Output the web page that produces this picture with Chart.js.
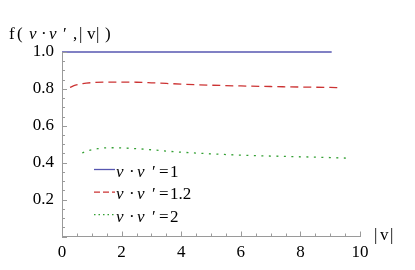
<!DOCTYPE html>
<html>
<head>
<meta charset="utf-8">
<script src="https://cdn.jsdelivr.net/npm/chart.js@4"></script>
<style>
  html, body { margin: 0; padding: 0; background: #fff; }
  #wrap { width: 415px; height: 270px; position: relative; }
</style>
</head>
<body>
<div id="wrap"><canvas id="chart" width="415" height="270"></canvas></div>
<script>
// values
const xSeries1 = [0, 9.05];
const ySeries1 = [1.0, 1.0];

const xSeries2 = [0.27, 0.45, 0.7, 1, 1.5, 2, 2.5, 3, 4, 5, 6, 7, 8, 9, 9.35];
const ySeries2 = [0.808, 0.820, 0.829, 0.834, 0.837, 0.837, 0.836, 0.833, 0.826, 0.820, 0.816, 0.813, 0.810, 0.808, 0.807];

const xSeries3 = [0.68, 0.9, 1.2, 1.6, 2, 2.5, 3, 3.5, 4, 5, 6, 7, 8, 9, 9.55];
const ySeries3 = [0.453, 0.466, 0.476, 0.481, 0.480, 0.476, 0.470, 0.463, 0.457, 0.448, 0.441, 0.436, 0.432, 0.428, 0.425];

const legendValues = ['1', '1.2', '2'];
const xTickLabels = [0, 2, 4, 6, 8, 10];
const yTickLabels = ['0.2', '0.4', '0.6', '0.8', '1.0'];

const SERIF = "'Liberation Serif', 'DejaVu Serif', serif";
const AXIS_GRAY = '#9a9a9a';
const FONT_SIZE = 17;

Chart.defaults.font.family = SERIF;
Chart.defaults.font.size = FONT_SIZE;
Chart.defaults.color = '#000';

const toPoints = (xs, ys) => xs.map((x, i) => ({ x, y: ys[i] }));

// glyphs placed one by one, [text, offset, italic], to get Mathematica's loose spacing
function drawGlyphs(ctx, glyphs, x0, y) {
  glyphs.forEach(([txt, dx, italic]) => {
    ctx.font = (italic ? 'italic ' : '') + FONT_SIZE + 'px ' + SERIF;
    ctx.fillText(txt, x0 + dx, y);
  });
}

// inward tick marks
const innerTicks = {
  id: 'innerTicks',
  afterDraw(chart) {
    const { ctx, chartArea, scales } = chart;
    ctx.save();
    ctx.strokeStyle = AXIS_GRAY;
    ctx.lineWidth = 1;
    ctx.beginPath();
    scales.x.ticks.forEach(t => {
      const px = Math.round(scales.x.getPixelForValue(t.value)) + 0.5;
      const major = Math.round(t.value * 2) % 4 === 0;
      ctx.moveTo(px, chartArea.bottom);
      ctx.lineTo(px, chartArea.bottom - (major ? 5 : 3));
    });
    scales.y.ticks.forEach(t => {
      const py = Math.round(scales.y.getPixelForValue(t.value)) + 0.5;
      const major = Math.round(t.value * 20) % 4 === 0;
      ctx.moveTo(chartArea.left, py);
      ctx.lineTo(chartArea.left + (major ? 5 : 3), py);
    });
    ctx.stroke();
    ctx.restore();
  }
};

// axis titles and legend
const annotations = {
  id: 'annotations',
  afterDraw(chart) {
    const { ctx, chartArea } = chart;
    ctx.save();
    ctx.fillStyle = '#000';
    ctx.textBaseline = 'alphabetic';

    drawGlyphs(ctx, [
      ['f', 0, false], ['(', 8, false], ['v', 20, true], ['\u00b7', 32, false],
      ['v', 40, true], ['\u2032', 54, false], [',', 64, false], ['|', 70, false],
      ['v', 78, false], ['|', 87, false], [')', 96, false],
    ], 9, 39);

    drawGlyphs(ctx, [['|', 0, false], ['v', 6, false], ['|', 16, false]], chartArea.right + 14, 240);

    const lx = 94, ly = 169, step = 22.6;
    chart.data.datasets.forEach((ds, i) => {
      const y = ly + i * step;
      ctx.save();
      ctx.strokeStyle = ds.borderColor;
      ctx.lineWidth = 1.3;
      ctx.setLineDash(i === 0 ? [] : (i === 1 ? [6, 3] : [1.5, 3]));
      ctx.beginPath();
      ctx.moveTo(lx, y + 0.5);
      ctx.lineTo(lx + 21, y + 0.5);
      ctx.stroke();
      ctx.restore();
      drawGlyphs(ctx, [
        ['v', 0, true], ['\u00b7', 13, false], ['v', 21, true], ['\u2032', 36, false],
        ['=', 43, false], [legendValues[i], 54, false],
      ], lx + 22, y + 7.5);
    });
    ctx.restore();
  }
};

new Chart(document.getElementById('chart'), {
  type: 'line',
  data: {
    datasets: [
      {
        data: toPoints(xSeries1, ySeries1),
        borderColor: '#5656b0',
        borderWidth: 1.5,
        pointRadius: 0,
        clip: false,
      },
      {
        data: toPoints(xSeries2, ySeries2),
        borderColor: '#cc3333',
        borderWidth: 1.3,
        borderDash: [8, 5],
        pointRadius: 0,
        cubicInterpolationMode: 'monotone',
        clip: false,
      },
      {
        data: toPoints(xSeries3, ySeries3),
        borderColor: '#33a033',
        borderWidth: 1.3,
        borderDash: [2, 5.5],
        pointRadius: 0,
        cubicInterpolationMode: 'monotone',
        clip: false,
      },
    ],
  },
  options: {
    responsive: false,
    animation: false,
    events: [],
    layout: { padding: { top: 52, right: 55, left: 0, bottom: 0 } },
    plugins: {
      legend: { display: false },
      tooltip: { enabled: false },
    },
    scales: {
      x: {
        type: 'linear',
        min: 0,
        max: 10,
        grid: { display: false, drawTicks: false },
        border: { display: true, color: AXIS_GRAY, width: 1 },
        ticks: {
          stepSize: 0.5,
          autoSkip: false,
          maxRotation: 0,
          maxTicksLimit: 100,
          padding: 6,
          color: '#000',
          font: { family: SERIF, size: FONT_SIZE },
          callback: v => (xTickLabels.includes(v) ? String(v) : ''),
        },
        afterFit: s => { s.height = 33.5; },
      },
      y: {
        type: 'linear',
        min: 0,
        max: 1.0,
        grid: { display: false, drawTicks: false },
        border: { display: true, color: AXIS_GRAY, width: 1 },
        ticks: {
          stepSize: 0.05,
          autoSkip: false,
          maxTicksLimit: 100,
          padding: 8,
          color: '#000',
          font: { family: SERIF, size: FONT_SIZE },
          callback: v => {
            const s = v.toFixed(1);
            return Math.round(v * 20) % 4 === 0 && yTickLabels.includes(s) ? s : '';
          },
        },
        afterFit: s => { s.width = 62; },
      },
    },
  },
  plugins: [innerTicks, annotations],
});
</script>
</body>
</html>
